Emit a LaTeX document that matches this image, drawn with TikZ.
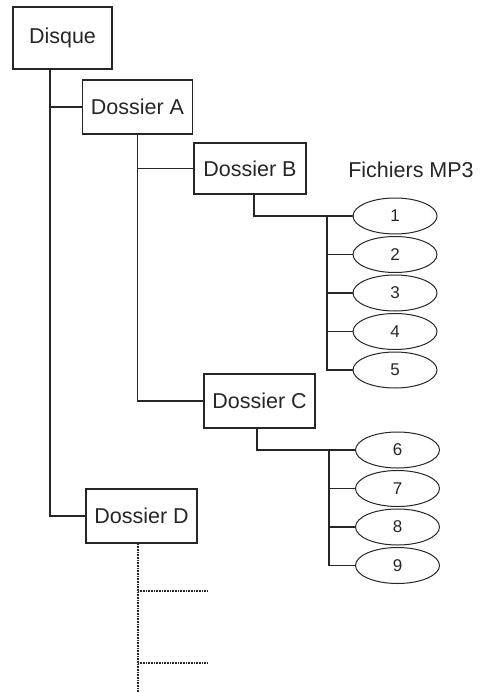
\documentclass[tikz,border=0pt]{standalone}
\usepackage{fontspec}
\setmainfont{Liberation Sans}
\usepackage{tikz}
\usetikzlibrary{shapes.geometric, positioning, calc}

\begin{document}
\begin{tikzpicture}[
  x=1pt, y=-1pt,
  every node/.style={font=\fontsize{21.5}{25}\selectfont, text=black!85},
  folder/.style={
    rectangle, draw=black!85, line width=1.8pt,
    minimum height=54pt, inner sep=0pt},
  track/.style={
    ellipse, draw=black!85, line width=1pt,
    minimum width=84pt, minimum height=36pt, inner sep=0pt,
    font=\fontsize{17}{19}\selectfont},
  link/.style={draw=black!85, line width=1.9pt},
  more/.style={draw=black!85, line width=1.5pt, dash pattern=on 0.8pt off 0.8pt},
]
\useasboundingbox (0,0) rectangle (485,693);

\node[folder, minimum width=99pt, minimum height=62pt] (disk) at (62.5, 38) {Disque};
\node[folder, minimum width=110pt] (dirA) at (137.5, 107) {Dossier A};
\node[folder, minimum width=112pt, minimum height=51pt] (dirB) at (250, 168.5) {Dossier B};
\node[folder, minimum width=111pt] (dirC) at (259.5, 401) {Dossier C};
\node[folder, minimum width=111pt] (dirD) at (141.5, 516) {Dossier D};

\node (mp3) at (411, 170) {Fichiers MP3};

\foreach \i in {1,...,5}
  \node[track] (f\i) at (395, {216 + 38.5*(\i-1)}) {\i};
\foreach \i in {6,...,9}
  \node[track] (f\i) at (397.5, {450 + 38.5*(\i-6)}) {\i};

\coordinate (busB) at (327, 216);
\coordinate (busC) at (329, 450);
\coordinate (dEnd) at (138, 693);
\coordinate (d1) at (207, 591);
\coordinate (d2) at (207, 663);

\draw[link] ([xshift=-12.5pt]disk.south) |- (dirD.west);
\draw[link] ([xshift=-12.5pt]disk.south) |- (dirA.west);
\draw[link] (dirA.south) |- (dirB.west);
\draw[link] (dirA.south) |- (dirC.west);

\draw[link] ([xshift=4pt]dirB.south) |- (f1.west);
\foreach \i in {2,...,5}
  \draw[link] (busB) |- (f\i.west);

\draw[link] ([xshift=-2.5pt]dirC.south) |- (f6.west);
\foreach \i in {7,...,9}
  \draw[link] (busC) |- (f\i.west);

\draw[more] (dirD.south -| dEnd) -- (dEnd);
\draw[more] (d1 -| dEnd) -- (d1);
\draw[more] (d2 -| dEnd) -- (d2);

\end{tikzpicture}
\end{document}
